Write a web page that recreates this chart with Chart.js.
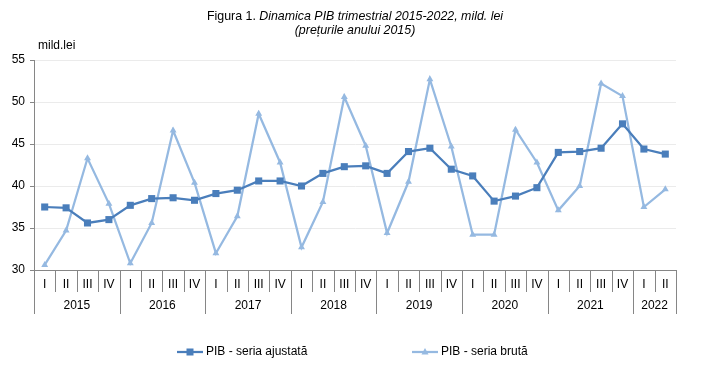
<!DOCTYPE html>
<html><head><meta charset="utf-8">
<script src="https://cdn.jsdelivr.net/npm/chart.js@4/dist/chart.umd.min.js"></script>
<style>html,body{margin:0;padding:0;background:#fff;}#wrap{position:relative;width:718px;height:370px;}</style>
</head><body><div id="wrap"><canvas id="c" width="718" height="370"></canvas></div>
<script>
const quarterNames = ['I','II','III','IV'];
const years = ['2015','2016','2017','2018','2019','2020','2021','2022'];
const quartersPerYear = [4,4,4,4,4,4,4,2];
const adjusted = [37.5,37.4,35.6,36.0, 37.7,38.5,38.6,38.3, 39.1,39.5,40.6,40.6, 40.0,41.5,42.3,42.4, 41.5,44.1,44.5,42.0, 41.2,38.2,38.8,39.8, 44.0,44.1,44.5,47.4, 44.4,43.8];
const raw = [30.6,34.7,43.3,37.9, 30.8,35.6,46.6,40.4, 32.0,36.4,48.6,42.8, 32.7,38.1,50.6,44.8, 34.4,40.5,52.7,44.7, 34.2,34.2,46.7,42.8, 37.1,40.0,52.2,50.7, 37.5,39.6];
const seriesNames = ['PIB - seria ajustată','PIB - seria brută'];
const titleLine1a = 'Figura 1. ';
const titleLine1b = 'Dinamica PIB trimestrial 2015-2022, mild. lei';
const titleLine2 = '(prețurile anului 2015)';
const unitLabel = 'mild.lei';

const labels = [];
const quarterLabels = [];
years.forEach((y, yi) => { for (let q = 0; q < quartersPerYear[yi]; q++) { labels.push(y + ' ' + quarterNames[q]); quarterLabels.push(quarterNames[q]); } });

const C_ADJ = '#4A7EBB';
const C_RAW = '#95B9E1';
const AXIS = '#868686';
const FONT = '"Liberation Sans", Arial, sans-serif';

const decor = {
  id: 'decor',
  afterDraw(chart) {
    const ctx = chart.ctx;
    const x = chart.scales.x;
    const area = chart.chartArea;
    ctx.save();
    // title
    ctx.fillStyle = '#000';
    ctx.textBaseline = 'middle';
    const TF = '12.4px ' + FONT;
    ctx.font = TF;
    const wA = ctx.measureText(titleLine1a).width;
    ctx.font = 'italic ' + TF;
    const wB = ctx.measureText(titleLine1b).width;
    const cx = 355;
    let sx = cx - (wA + wB) / 2;
    ctx.textAlign = 'left';
    ctx.font = TF;
    ctx.fillText(titleLine1a, sx, 17);
    ctx.font = 'italic ' + TF;
    ctx.fillText(titleLine1b, sx + wA, 17);
    ctx.textAlign = 'center';
    ctx.fillText(titleLine2, cx, 31);
    // unit
    ctx.textAlign = 'left';
    ctx.font = '12px ' + FONT;
    ctx.fillText(unitLabel, 38, 46);
    // x axis multi-level
    const half = (x.getPixelForValue(1) - x.getPixelForValue(0)) / 2;
    const n = labels.length;
    ctx.strokeStyle = AXIS;
    ctx.lineWidth = 1;
    const bounds = new Set([0]);
    let acc = 0;
    quartersPerYear.forEach(c => { acc += c; bounds.add(acc); });
    for (let i = 0; i <= n; i++) {
      const px = Math.round((i < n ? x.getPixelForValue(i) - half : x.getPixelForValue(n - 1) + half)) + 0.5;
      ctx.beginPath();
      ctx.moveTo(px, area.bottom);
      ctx.lineTo(px, bounds.has(i) ? 314 : 292);
      ctx.stroke();
    }
    ctx.textAlign = 'center';
    ctx.font = '12px ' + FONT;
    quarterLabels.forEach((q, i) => ctx.fillText(q, x.getPixelForValue(i), 285));
    let start = 0;
    years.forEach((y, yi) => {
      const end = start + quartersPerYear[yi] - 1;
      const mid = (x.getPixelForValue(start) + x.getPixelForValue(end)) / 2;
      ctx.fillText(y, mid, 306);
      start = end + 1;
    });
    // legend
    const ly = 352;
    ctx.lineWidth = 2.25;
    ctx.strokeStyle = C_ADJ;
    ctx.beginPath(); ctx.moveTo(177, ly); ctx.lineTo(203, ly); ctx.stroke();
    ctx.fillStyle = C_ADJ;
    ctx.fillRect(186.5, ly - 3.5, 7, 7);
    ctx.strokeStyle = C_RAW;
    ctx.beginPath(); ctx.moveTo(412, ly); ctx.lineTo(438, ly); ctx.stroke();
    ctx.fillStyle = C_RAW;
    ctx.beginPath(); ctx.moveTo(425, ly - 4); ctx.lineTo(428.5, ly + 2.5); ctx.lineTo(421.5, ly + 2.5); ctx.closePath(); ctx.fill();
    ctx.fillStyle = '#000';
    ctx.textAlign = 'left';
    ctx.font = '12px ' + FONT;
    ctx.fillText(seriesNames[0], 206, ly);
    ctx.fillText(seriesNames[1], 441, ly);
    ctx.restore();
  }
};

new Chart(document.getElementById('c'), {
  type: 'line',
  data: {
    labels: labels,
    datasets: [
      { label: seriesNames[0], data: adjusted, borderColor: C_ADJ, backgroundColor: C_ADJ, borderWidth: 2.25,
        pointStyle: 'rect', pointRadius: 5, pointBorderWidth: 0, pointBackgroundColor: C_ADJ, tension: 0 },
      { label: seriesNames[1], data: raw, borderColor: C_RAW, backgroundColor: C_RAW, borderWidth: 2.25,
        pointStyle: 'triangle', pointRadius: 4, pointBorderWidth: 0, pointBackgroundColor: C_RAW, tension: 0 }
    ]
  },
  options: {
    responsive: false, animation: false, devicePixelRatio: 1,
    layout: { padding: { top: 60, right: 42, left: 0, bottom: 0 } },
    plugins: { legend: { display: false }, title: { display: false }, tooltip: { enabled: false } },
    scales: {
      x: {
        type: 'category', offset: true,
        grid: { display: false },
        ticks: { display: false },
        border: { display: true, color: AXIS, width: 1 },
        afterFit: s => { s.height = 100; }
      },
      y: {
        min: 30, max: 55,
        ticks: { stepSize: 5, color: '#000', font: { size: 12, family: FONT }, padding: 5 },
        grid: { color: c => (c.tick && c.tick.value === 30) ? 'rgba(0,0,0,0)' : '#ebebeb', tickColor: AXIS, tickLength: 4, drawTicks: true },
        border: { display: true, color: AXIS, width: 1 },
        afterFit: s => { s.width = 34; }
      }
    }
  },
  plugins: [decor]
});
</script></body></html>
